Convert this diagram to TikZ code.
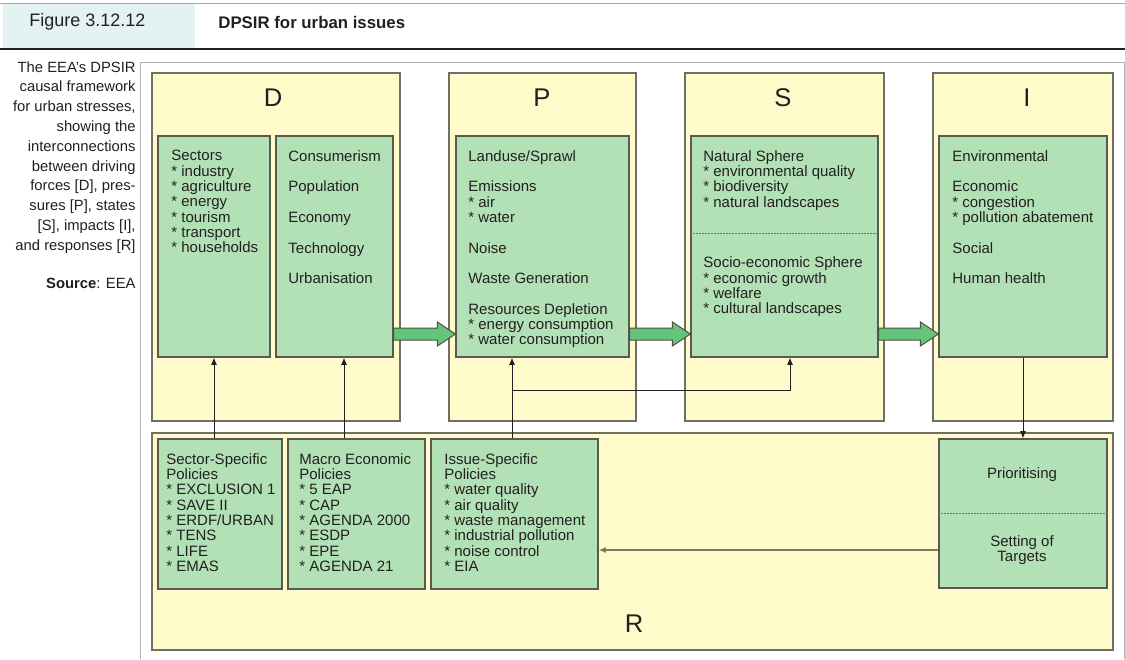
\documentclass[tikz,border=0pt]{standalone}
\usepackage{fontspec}
\setmainfont{Liberation Sans}
\usetikzlibrary{calc,fit,arrows.meta}

\definecolor{stageyellow}{HTML}{FFFBCB}
\definecolor{boxgreen}{HTML}{B3E1B6}
\definecolor{arrowgreen}{HTML}{63C47A}
\definecolor{edgegray}{HTML}{6F6F66}
\definecolor{headcyan}{HTML}{E4F3F2}
\definecolor{inkgray}{HTML}{231F20}
\definecolor{feedline}{HTML}{7E7966}

\tikzset{
  stage/.style={draw=edgegray, fill=stageyellow, line width=0.7pt, inner sep=0pt},
  factor/.style={draw=edgegray!80!black, fill=boxgreen, line width=0.6pt, inner sep=0pt},
  txt/.style={inner sep=0pt, align=left, anchor=north west, text=inkgray, font=\fontsize{7.5}{7.65}\selectfont},
  letter/.style={inner sep=0pt, text=inkgray, font=\fontsize{12.8}{14}\selectfont},
  link/.style={draw=inkgray, line width=0.5pt, -{Latex[length=3.6pt,width=3pt]}},
  feedback/.style={draw=feedline, line width=0.8pt, -{Latex[length=3.6pt,width=3pt]}},
  divider/.style={draw=edgegray, line width=0.5pt, dash pattern=on 0.6pt off 0.9pt},
  fatarrow/.style={draw=edgegray!70!black, fill=arrowgreen, line width=0.5pt, line join=miter}
}

\begin{document}
\begin{tikzpicture}[x=0.5pt, y=-0.5pt]
\useasboundingbox (0,0) rectangle (1125,659);

% header bar
\fill[headcyan] (3,3) rectangle (195,49);
\draw[gray!70, line width=0.4pt] (0,3) -- (1125,3);
\draw[inkgray, line width=0.6pt] (0,49) -- (1125,49);
\node[anchor=west, inner sep=0pt, text=inkgray, font=\fontsize{9}{10}\selectfont] (fignum) at (29,22) {Figure 3.12.12};
\node[anchor=west, inner sep=0pt, text=inkgray, font=\fontsize{8.4}{10}\selectfont\bfseries] (figtitle) at (218,22) {DPSIR for urban issues};

% side note
\node[anchor=north east, inner sep=0pt, align=right, text=inkgray, font=\fontsize{7.4}{9.9}\selectfont] (note) at (136,61)
  {The EEA's DPSIR\\causal framework\\for urban stresses,\\showing the\\interconnections\\between driving\\forces [D], pres-\\sures [P], states\\{}[S], impacts [I],\\and responses [R]};
\node[anchor=east, inner sep=0pt, text=inkgray, font=\fontsize{7.4}{9.9}\selectfont] (source) at (136,283) {\textbf{Source}: EEA};

% frame
\draw[gray!60, line width=0.5pt] (140,659) -- (140,62) -- (1124,62) -- (1124,659);

% stages
\node[stage, fit={(152,73) (400,421)}] (drive) {};
\node[stage, fit={(449,73) (636,421)}] (pres) {};
\node[stage, fit={(685,73) (884,421)}] (state) {};
\node[stage, fit={(933,73) (1113,421)}] (impact) {};
\node[stage, fit={(152,433) (1113,650)}] (resp) {};

\node[letter] (Dlabel) at (273,98) {D};
\node[letter] (Plabel) at (542,98) {P};
\node[letter] (Slabel) at (783,98) {S};
\node[letter] (Ilabel) at (1027,98) {I};
\node[letter] (Rlabel) at (634,624) {R};

% inner boxes
\node[factor, fit={(158,136) (270,357)}] (sectors) {};
\node[factor, fit={(276,136) (393,357)}] (consum) {};
\node[factor, fit={(456,136) (629,357)}] (presbox) {};
\node[factor, fit={(691,136) (878,357)}] (statebox) {};
\node[factor, fit={(939,136) (1107,357)}] (impactbox) {};
\node[factor, fit={(158,439) (282,589)}] (secpol) {};
\node[factor, fit={(288,439) (425,589)}] (macpol) {};
\node[factor, fit={(431,439) (598,589)}] (isspol) {};
\node[factor, fit={(939,439) (1107,588)}] (prio) {};

% box texts
\node[txt] (sectorstxt) at (171,150) {Sectors\\* industry\\* agriculture\\* energy\\* tourism\\* transport\\* households};
\node[txt] (consumtxt) at (288,150) {Consumerism\\[7.65pt]Population\\[7.65pt]Economy\\[7.65pt]Technology\\[7.65pt]Urbanisation};
\node[txt] (prestxt) at (468,150) {Landuse/Sprawl\\[7.65pt]Emissions\\* air\\* water\\[7.65pt]Noise\\[7.65pt]Waste Generation\\[7.65pt]Resources Depletion\\* energy consumption\\* water consumption};
\node[txt] (nattxt) at (703,150) {Natural Sphere\\* environmental quality\\* biodiversity\\* natural landscapes};
\node[txt] (soctxt) at (703,256.7) {Socio-economic Sphere\\* economic growth\\* welfare\\* cultural landscapes};
\node[txt] (imptxt) at (952,150) {Environmental\\[7.65pt]Economic\\* congestion\\* pollution abatement\\[7.65pt]Social\\[7.65pt]Human health};
\node[txt] (secpoltxt) at (166,453) {Sector-Specific\\Policies\\* EXCLUSION 1\\* SAVE II\\* ERDF/URBAN\\* TENS\\* LIFE\\* EMAS};
\node[txt] (macpoltxt) at (299,453) {Macro Economic\\Policies\\* 5 EAP\\* CAP\\* AGENDA 2000\\* ESDP\\* EPE\\* AGENDA 21};
\node[txt] (isspoltxt) at (444,453) {Issue-Specific\\Policies\\* water quality\\* air quality\\* waste management\\* industrial pollution\\* noise control\\* EIA};
\node[txt, anchor=center, align=center] (priotxt) at (1022,475) {Prioritising};
\node[txt, anchor=center, align=center] (settxt) at (1022,550) {Setting of\\Targets};

% dotted splits
\coordinate (natsplit) at (0,233);
\draw[divider] (statebox.west |- natsplit) -- (statebox.east |- natsplit);
\draw[divider] (prio.west) -- (prio.east);

% causal chain
\coordinate (flowrow) at (0,334);
\foreach \from/\to in {consum/presbox, presbox/statebox, statebox/impactbox}
  \draw[fatarrow] ($(\from.east |- flowrow)+(0,-6)$) -- ($(\to.west |- flowrow)+(-18,-6)$) -- ++(0,-6)
    -- (\to.west |- flowrow) -- ++(-18,12) -- ++(0,-6) -- ($(\from.east |- flowrow)+(0,6)$) -- cycle;

% responses
\coordinate (macx) at (344,0);
\coordinate (issx) at (512,0);
\coordinate (sx) at (790,0);
\coordinate (branchy) at (0,390);
\draw[link] (secpol.north -| sectors.south) -- (sectors.south);
\draw[link] (macpol.north -| macx) -- (consum.south -| macx);
\draw[link] (isspol.north -| issx) -- (presbox.south -| issx);
\draw[link] (issx |- branchy) -| (statebox.south -| sx);
\draw[link] (impactbox.south) -- (prio.north);
\draw[feedback] (prio.west |- settxt) -- (isspol.east |- settxt);
\end{tikzpicture}
\end{document}
